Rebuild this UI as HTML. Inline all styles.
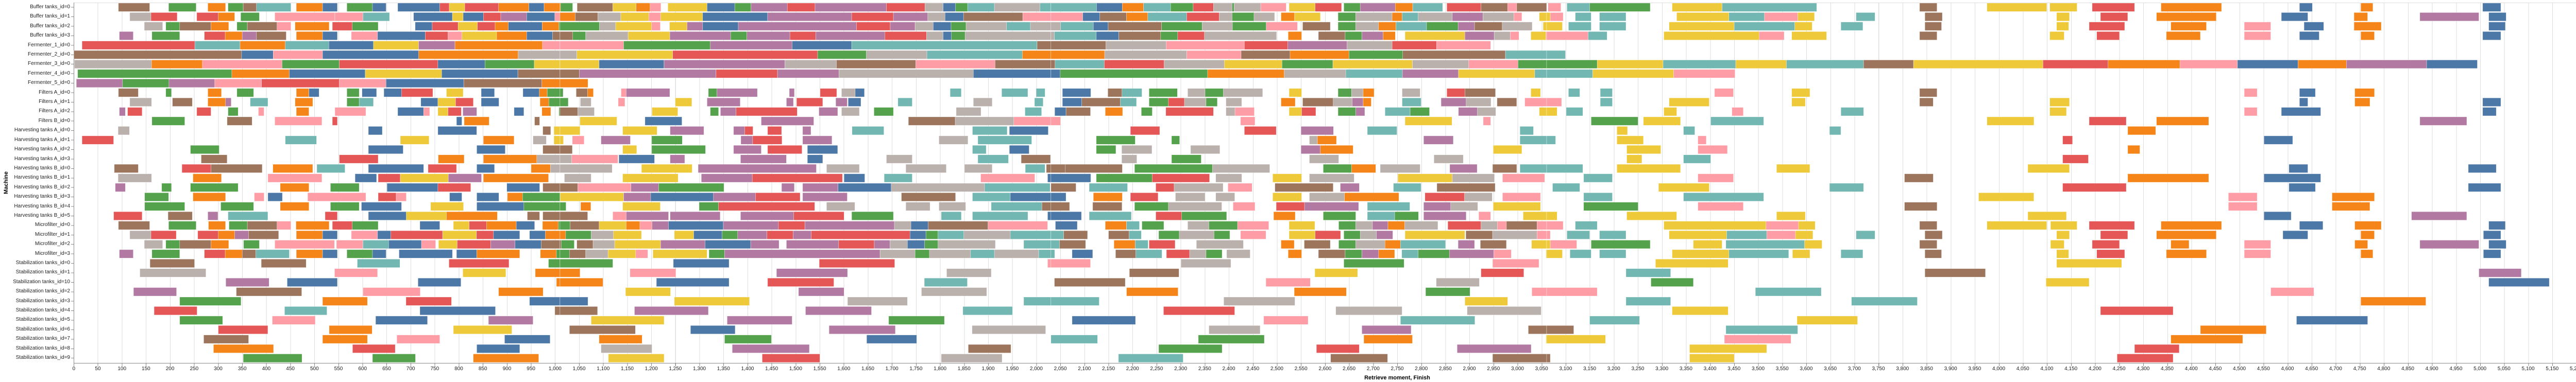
<!DOCTYPE html>
<html><head><meta charset="utf-8">
<meta name="viewport" content="width=5386, initial-scale=1">
<style>
html,body{margin:0;padding:0;background:#fff;overflow:hidden;width:5386px;height:742px;}
#wrap{width:5386px;height:742px;position:relative;overflow:hidden;font-family:"Liberation Sans",Arial,sans-serif;color:#000;}
.grid{position:absolute;left:143.3px;top:5px;width:5138.7px;height:700px;background:repeating-linear-gradient(to right,#dddddd 0 1px,transparent 1px 46.71px);border-top:1px solid #ddd;border-right:1px solid #ddd;box-sizing:border-box;}
.yax{position:absolute;left:143px;top:5px;width:1px;height:700px;background:#888;}
.xax{position:absolute;left:143px;top:705px;width:5140px;height:1px;background:#888;}
.xt{position:absolute;left:143.3px;top:706px;width:5140px;height:5px;background:repeating-linear-gradient(to right,#888 0 1px,transparent 1px 46.71px);}
.yt{position:absolute;left:138px;top:5px;width:5px;height:700px;background:repeating-linear-gradient(to bottom,transparent 0 8.7px,#888 8.7px 9.7px,transparent 9.7px 18.42px);}
.yl{position:absolute;left:0;top:5px;width:136px;font-size:10px;text-align:right;color:#222;}
.yl div{height:18.42px;line-height:18.42px;white-space:nowrap;}
.xl{position:absolute;left:119.95px;top:711px;width:5240px;font-size:10px;color:#222;white-space:nowrap;overflow:hidden;}
.xl span{display:inline-block;width:46.71px;text-align:center;}
.xtitle{position:absolute;left:2612px;width:200px;top:728px;text-align:center;font-size:11px;font-weight:bold;}
.leg{position:absolute;left:5304px;top:8px;width:80px;font-size:10px;}
.leg h4{margin:0 0 2px 0;font-size:11px;font-weight:bold;height:16px;line-height:16px;}
.leg div{height:13px;line-height:13px;white-space:nowrap;}
.leg i{display:inline-block;width:10px;height:10px;vertical-align:-1px;margin-right:5px;}
svg{position:absolute;left:0;top:0;}
</style></head><body><div id="wrap">
<div class="grid"></div>
<div class="yax"></div><div class="xax"></div><div class="xt"></div><div class="yt"></div>
<div class="yl">
<div>Buffer tanks_id=0</div><div>Buffer tanks_id=1</div><div>Buffer tanks_id=2</div><div>Buffer tanks_id=3</div>
<div>Fermenter_1_id=0</div><div>Fermenter_2_id=0</div><div>Fermenter_3_id=0</div><div>Fermenter_4_id=0</div><div>Fermenter_5_id=0</div>
<div>Filters A_id=0</div><div>Filters A_id=1</div><div>Filters A_id=2</div><div>Filters B_id=0</div>
<div>Harvesting tanks A_id=0</div><div>Harvesting tanks A_id=1</div><div>Harvesting tanks A_id=2</div><div>Harvesting tanks A_id=3</div>
<div>Harvesting tanks B_id=0</div><div>Harvesting tanks B_id=1</div><div>Harvesting tanks B_id=2</div><div>Harvesting tanks B_id=3</div><div>Harvesting tanks B_id=4</div><div>Harvesting tanks B_id=5</div>
<div>Microfilter_id=0</div><div>Microfilter_id=1</div><div>Microfilter_id=2</div><div>Microfilter_id=3</div>
<div>Stabilization tanks_id=0</div><div>Stabilization tanks_id=1</div><div>Stabilization tanks_id=10</div><div>Stabilization tanks_id=2</div><div>Stabilization tanks_id=3</div><div>Stabilization tanks_id=4</div><div>Stabilization tanks_id=5</div><div>Stabilization tanks_id=6</div><div>Stabilization tanks_id=7</div><div>Stabilization tanks_id=8</div><div>Stabilization tanks_id=9</div>
</div>
<svg width="30" height="742" xmlns="http://www.w3.org/2000/svg"><text transform="translate(15,355) rotate(-90)" text-anchor="middle" font-family="Liberation Sans, Arial, sans-serif" font-size="11" font-weight="bold">Machine</text></svg>
<div class="xl"><span>0</span><span>50</span><span>100</span><span>150</span><span>200</span><span>250</span><span>300</span><span>350</span><span>400</span><span>450</span><span>500</span><span>550</span><span>600</span><span>650</span><span>700</span><span>750</span><span>800</span><span>850</span><span>900</span><span>950</span><span>1,000</span><span>1,050</span><span>1,100</span><span>1,150</span><span>1,200</span><span>1,250</span><span>1,300</span><span>1,350</span><span>1,400</span><span>1,450</span><span>1,500</span><span>1,550</span><span>1,600</span><span>1,650</span><span>1,700</span><span>1,750</span><span>1,800</span><span>1,850</span><span>1,900</span><span>1,950</span><span>2,000</span><span>2,050</span><span>2,100</span><span>2,150</span><span>2,200</span><span>2,250</span><span>2,300</span><span>2,350</span><span>2,400</span><span>2,450</span><span>2,500</span><span>2,550</span><span>2,600</span><span>2,650</span><span>2,700</span><span>2,750</span><span>2,800</span><span>2,850</span><span>2,900</span><span>2,950</span><span>3,000</span><span>3,050</span><span>3,100</span><span>3,150</span><span>3,200</span><span>3,250</span><span>3,300</span><span>3,350</span><span>3,400</span><span>3,450</span><span>3,500</span><span>3,550</span><span>3,600</span><span>3,650</span><span>3,700</span><span>3,750</span><span>3,800</span><span>3,850</span><span>3,900</span><span>3,950</span><span>4,000</span><span>4,050</span><span>4,100</span><span>4,150</span><span>4,200</span><span>4,250</span><span>4,300</span><span>4,350</span><span>4,400</span><span>4,450</span><span>4,500</span><span>4,550</span><span>4,600</span><span>4,650</span><span>4,700</span><span>4,750</span><span>4,800</span><span>4,850</span><span>4,900</span><span>4,950</span><span>5,000</span><span>5,050</span><span>5,100</span><span>5,150</span><span>5,200</span><span>5,250</span><span>5,300</span><span>5,350</span><span>5,400</span><span>5,450</span><span>5,500</span></div>
<div class="xtitle">Retrieve moment, Finish</div>
<div class="leg"><h4>Product</h4>
<div><i style="background:#4c78a8"></i>0</div><div><i style="background:#f58518"></i>1</div><div><i style="background:#e45756"></i>2</div><div><i style="background:#72b7b2"></i>3</div><div><i style="background:#54a24b"></i>4</div><div><i style="background:#eeca3b"></i>5</div><div><i style="background:#b279a2"></i>6</div><div><i style="background:#ff9da6"></i>7</div><div><i style="background:#9d755d"></i>8</div><div><i style="background:#bab0ac"></i>9</div>
<div><i style="background:#4c78a8"></i>10</div><div><i style="background:#f58518"></i>11</div><div><i style="background:#e45756"></i>12</div><div><i style="background:#72b7b2"></i>13</div><div><i style="background:#54a24b"></i>14</div><div><i style="background:#eeca3b"></i>15</div><div><i style="background:#b279a2"></i>16</div><div><i style="background:#ff9da6"></i>17</div><div><i style="background:#9d755d"></i>18</div><div><i style="background:#bab0ac"></i>19</div>
<div><i style="background:#4c78a8"></i>20</div><div><i style="background:#f58518"></i>21</div><div><i style="background:#e45756"></i>22</div><div><i style="background:#72b7b2"></i>23</div><div><i style="background:#54a24b"></i>24</div><div><i style="background:#eeca3b"></i>25</div><div><i style="background:#b279a2"></i>26</div><div><i style="background:#ff9da6"></i>27</div><div><i style="background:#9d755d"></i>28</div><div><i style="background:#bab0ac"></i>…91 entries</div>
</div>
<svg id="s" width="5386" height="742" xmlns="http://www.w3.org/2000/svg"></svg>
</div>
<script>
var C={b:'#4c78a8',o:'#f58518',r:'#e45756',t:'#72b7b2',g:'#54a24b',y:'#eeca3b',p:'#b279a2',k:'#ff9da6',n:'#9d755d',s:'#bab0ac'};
var A=[
"n148-247 g307-394 o431-487 g495-543 n543-585 t585-694 o711-794 b794-841 g871-952 b952-995 b1032-1165 r1165-1195 y1195-1244 r1244-1351 o1351-1447 b1447-1495 o1495-1548 g1548-1568",
"s184-251 r251-334 r396-464 o464-516 g535-594 k643-833 k833-922 t922-1006 b1082-1205 y1205-1239 b1239-1303 r1303-1358 p1358-1440 b1440-1529 k1529-1568",
"s230-288 g298-342 n342-441 o441-497 g523-556 n556-650 k650-694 o707-815 r825-888 g888-970 b1087-1141 r1141-1223 y1223-1284 r1284-1340 o1340-1382 b1382-1489 o1489-1542 g1542-1568",
"p151-195 g254-342 r420-486 o486-540 p540-585 n585-679 o711-794 b794-841 k885-968 b968-1119 r1119-1191 k1191-1235 y1235-1345 o1345-1440 b1440-1522 n1522-1568",
"r33-390 t390-533 o533-676 t676-814 b814-955 y955-1098 p1098-1213 o1213-1490 k1490-1568",
"n5-538 b538-638 k638-794 b794-1098 o1098-1413 s1413-1568",
"s9-253 o253-414 k414-666 g666-847 r847-1159 b1159-1308 g1308-1464 y1464-1568",
"g19-507 o507-689 b689-929 y929-1171 b1171-1412 n1412-1568",
"p15-161 g161-308 p308-453 k453-601 r601-847 k847-995 b995-1241 n1241-1488 o1488-1568",
"n148-211 g298-316 o431-474 g523-576 o711-751 b751-783 g871-910 b919-965 b988-1044 r1044-1143 y1186-1239 b1296-1338 b1428-1480 o1480-1505 g1505-1555",
"s184-253 n319-382 o431-487 p487-505 t565-621 o707-763 g871-910 t910-955 b1105-1159 y1159-1215 r1215-1271 b1296-1352 o1482-1510 g1510-1568",
"p151-170 r177-223 r396-441 g495-527 k591-609 o711-751 k833-931 b1032-1114 k1114-1133 y1159-1191 r1191-1233 p1238-1282 b1400-1431 o1488-1516 g1542-1568",
"g254-358 n492-571 k643-792 r825-841 b1218-1235 o1242-1321 n1465-1481",
"s147-183 b939-983 b1159-1282 n1491-1516 y1526-1568",
"r33-133 t676-775 y1040-1131 o1303-1400 s1460-1502 y1526-1557",
"g376-467 b939-1049 b1282-1372 n1491-1568",
"n410-492 r847-970 o1160-1242 o1303-1472 s1472-1568",
"n135-211 r349-441 n441-603 o637-763 t776-865 b939-1114 r1128-1218 b1282-1338 o1454-1515 s1515-1568",
"s147-253 o384-474 k621-792 b897-965 r970-1040 y1040-1192 p1192-1297 o1303-1509 s1560-1568",
"p138-170 g285-316 g376-527 o660-751 g819-910 b998-1159 r1159-1263 b1377-1481 n1491-1568",
"g231-307 o384-487 k578-609 b621-667 k747-931 r970-1027 k1027-1059 b1196-1235 b1282-1352 o1379-1427 g1427-1547 y1547-1568",
"g231-358 g472-576 o660-751 g819-910 b917-1044 y1136-1240 b1282-1431 g1431-1563",
"r133-223 n305-382 p431-463 t495-621 r802-841 b939-1059 y1059-1186 o1186-1347 n1442-1481 n1491-1568",
"n148-247 g307-394 o433-487 g498-556 n556-650 k650-694 o710-815 r825-888 g888-970 b1102-1165 y1208-1258 r1258-1313 o1313-1407 b1407-1465 o1490-1540 g1540-1568",
"s184-251 r251-331 r399-464 o464-516 p516-560 n560-655 o711-794 b794-841 k885-968 b968-1010 r1010-1174 y1174-1281 r1281-1335 b1335-1418 b1449-1499 o1499-1563",
"s230-288 g298-342 n342-441 o441-497 g544-594 k643-832 k838-922 t922-1003 b1003-1107 k1107-1152 y1161-1220 r1220-1326 p1326-1403 b1403-1486 n1486-1549 g1549-1568",
"p151-195 g254-342 r420-486 o486-540 n540-583 t583-689 o711-794 b794-841 g871-952 b952-995 b1036-1205 b1218-1282 o1282-1418 o1483-1534 g1534-1568",
"n248-389 n600-742 t904-1039 r1194-1384 g1509-1568",
"s216-425 k832-968 y1238-1374 o1467-1568",
"p488-625 b682-841 b1096-1232 o1534-1568",
"p196-332 n521-728 k922-1103 o1351-1492",
"g342-536 o794-936 r1058-1202 b1449-1568",
"r261-397 t674-808 b1102-1341 n1529-1568",
"g342-478 k635-771 b962-1126 p1319-1460",
"r464-621 o815-951 y1208-1393",
"n418-560 o794-936 k1029-1165 b1370-1514",
"o449-639 r889-1024 b1282-1418",
"g543-729 g952-1088 o1271-1478"];
var B=[
"o0-28 g28-66 n80-192 y192-265 o265-309 k309-343 y365-488 b488-575 g575-626 p626-740 r740-827 p827-1051 r1051-1172 s1172-1229 b1229-1268 g1268-1306 t1306-1390 s1390-1533 t1533-1568",
"b0-10 o10-74 n74-145 s145-217 y217-305 k305-342 y342-474 b474-678 p678-942 r942-1073 p1073-1181 s1181-1235 b1235-1293 n1293-1479 k1479-1568",
"o0-22 g22-150 s150-201 y201-314 k314-341 y370-425 p425-474 b474-586 p586-957 r957-1063 p1063-1141 s1141-1198 b1198-1254 g1254-1301 s1301-1428 t1428-1503 s1503-1568",
"b0-3 n3-66 g66-107 s107-240 y240-371 p371-562 g562-613 p613-748 r748-829 p829-1046 r1046-1177 s1177-1229 b1229-1255 g1255-1298 s1298-1568",
"k0-226 g226-498 p498-755 b755-942 t942-1524 n1524-1568",
"s0-79 y79-380 r380-835 g835-988 s988-1178 t1178-1478 o1478-1568",
"y0-149 b149-353 p353-732 s732-894 n894-1143 k1143-1392 n1392-1568",
"n0-87 p87-516 r516-709 p709-902 s902-1324 b1324-1568",
"o0-114",
"g0-36 n77-113 o113-131 k218-234 p234-371 g492-519 p519-646 p746-762 r843-895 s910-953 b953-982 t1251-1286 t1413-1495 t1521-1549",
"g0-52 s90-124 k209-230 y388-440 p488-592 p737-759 r769-851 p892-928 b931-971 t1087-1132 s1324-1383 t1516-1543",
"n24-82 s82-134 y315-396 g498-524 p530-579 r579-771 p839-898 s910-966 g1012-1073 s1270-1348 t1486-1538",
"y89-205 b293-409 p658-823 n1120-1267 s1267-1451 k1451-1568",
"y6-89 y223-331 p372-478 p571-606 r606-632 r678-722 p788-814 t943-1043 t1321-1430 b1437-1559",
"y6-37 k65-102 p155-247 g314-410 p594-631 r631-723 p788-880 s1216-1307 t1338-1507",
"n0-65 y223-267 g314-483 p571-658 r678-786 b803-898 t1321-1364 b1437-1499",
"s0-63 k63-208 b211-323 p372-418 p593-737 b803-851 s1051-1132 t1338-1434 n1474-1566",
"s0-190 y282-441 p460-831 s863-966 s1112-1239 s1296-1383 t1487-1549 n1553-1568",
"s40-124 y223-397 p470-630 r630-913 b918-983 t1044-1132 k1347-1517 b1557-1568",
"n0-82 k82-249 p249-336 g336-541 p722-762 p788-899 b899-1066 s1066-1359 t1359-1565",
"g0-27 y27-226 p226-311 b311-508 p508-640 r640-780 p788-928 n1098-1268 t1321-1440 b1440-1568",
"g0-45 o91-123 y223-341 g463-524 r524-826 s863-952 s1112-1188 s1216-1300 t1380-1539 n1539-1568",
"n0-113 k192-234 p234-367 p372-529 p593-760 r760-918 g942-1073 t1223-1286 t1321-1495 b1557-1568",
"o0-20 g20-58 n58-149 y149-234 o234-277 k277-315 p315-367 b367-539 p539-712 r712-795 p795-1076 s1076-1128 b1128-1182 n1182-1370 k1370-1557",
"o0-44 g44-124 s124-194 y194-282 y385-446 b446-535 g535-584 p584-676 r676-758 p758-815 r815-1125 b1125-1175 g1175-1213 t1213-1294 s1294-1440 t1440-1568",
"n0-30 g30-71 n79-130 s130-198 y198-342 p342-482 b482-625 p625-714 p737-901 r901-1013 p1013-1062 s1062-1117 b1117-1171 g1171-1213 s1213-1393 t1482-1568",
"o0-15 g15-56 n56-107 s107-177 y177-264 k264-302 y318-488 g494-543 p543-1031 s1031-1141 g1141-1186 s1186-1315 t1315-1390 s1390-1529 t1529-1568",
"g0-192 b382-557 r840-1077 k1557-1568",
"o0-89 k246-390 p706-929 s1240-1380",
"o15-161 b329-557 r678-886 t1170-1305",
"y232-373 p775-918 s1161-1366",
"b0-114 y385-621 s929-1117 t1482-1568",
"n10-144 p260-492 p797-1004 t1291-1447",
"y124-353 p551-755 g1058-1233",
"n56-263 b436-576 p871-1079 s1320-1551",
"o149-284 g543-690 b989-1146",
"s155-315 p567-809 n1308-1442",
"y178-353 r661-842 s1223-1414"];
var Cc=[
"t0-157 b157-237 o237-303 t303-387 g387-457 r457-520 s520-578 g578-584 s584-667 k667-746 y755-836 r836-918 g925-976 p976-1085 o1085-1139 t1139-1232 r1245-1351 n1351-1434 k1434-1462 n1462-1559 k1559-1568",
"k0-114 b114-167 n167-250 o250-316 t316-437 r437-538 s538-578 g578-646 s646-710 o730-772 y772-852 g907-962 s962-1075 o1075-1106 t1106-1156 s1156-1262 p1262-1357 s1357-1453 k1453-1478 y1532-1568",
"s0-45 t45-147 b147-193 n193-359 g359-485 s485-579 g579-684 k684-781 n797-883 g907-962 s962-1033 o1033-1087 t1087-1182 g1182-1280 p1280-1331 n1331-1417 s1417-1510 y1544-1568",
"s0-26 t26-156 b156-226 n226-356 g356-409 r409-492 s492-716 o752-794 n846-929 g929-981 p981-1047 o1047-1085 y1115-1301 p1301-1392 s1392-1442 k1442-1469 y1506-1553 k1553-1568",
"n0-186 s186-373 k373-616 r616-751 p751-935 s935-1075 r1075-1213 k1213-1381",
"o0-182 s182-437 k437-606 n606-758 o758-941 g941-1108 n1108-1427 t1427-1568",
"n0-28 t28-181 r181-367 s367-554 y554-733 g733-891 y891-1138 s1138-1313 k1313-1466 g1466-1568",
"b0-44 g44-502 o502-740 s740-931 t931-1107 p1107-1281 y1281-1518 t1518-1568",
"",
"b51-139 n192-236 t236-298 g320-408 s440-494 g494-551 s551-673 y755-794 g907-949 s949-985 o985-1019 s1106-1162 r1245-1301 n1301-1396 y1506-1536",
"b51-111 n111-231 t231-281 g320-380 r380-430 s430-497 g497-532 s559-608 o730-774 n797-892 s892-951 p951-985 o985-1010 t1106-1165 p1227-1305 s1305-1382 n1401-1462 k1487-1568",
"b27-62 n62-138 o184-238 g296-330 r372-520 s559-587 k587-647 y755-794 r794-838 g907-962 p962-990 t1053-1131 g1131-1191 p1281-1340 s1340-1397 y1532-1568",
"k0-45 k604-649 y1115-1261 k1358-1381",
"b0-7 r262-353 r616-715 p792-893 t998-1090 t1472-1514",
"g156-277 g390-415 s818-843 o843-902 p1173-1265 t1472-1568",
"g156-217 s235-329 s449-540 p792-852 o852-954 y1389-1478",
"n0-13 s235-282 g390-482 s818-909 s1205-1296",
"n2-60 n60-237 g275-517 s517-695 g861-949 o949-1024 s1038-1162 p1254-1339 n1387-1462 t1472-1568",
"b6-139 g156-330 r330-508 s527-608 y704-794 s818-957 y1093-1262 s1262-1393 k1418-1549",
"t0-13 n13-93 t134-253 r341-398 s398-550 k565-640 n711-892 p914-973 t1079-1165 n1214-1395",
"b0-62 o147-237 r262-348 s402-494 s527-586 y704-794 s818-927 o927-1096 r1177-1300 s1300-1386 k1418-1536",
"n0-73 n145-236 g275-380 s380-546 k581-649 r715-803 p803-971 t998-1130 p1173-1257 s1257-1341 y1389-1536",
"b6-110 t134-265 r341-421 g421-561 o707-774 g861-962 t998-1083 g1083-1157 p1173-1305 k1344-1381 y1482-1568",
"k0-5 b29-97 o184-250 t250-290 g298-366 s440-506 g506-595 k595-692 y755-835 g909-962 s962-1014 p1014-1062 o1062-1114 s1114-1217 r1248-1351 s1351-1402 k1402-1430 n1430-1525 k1525-1568",
"t0-55 n55-129 n194-258 t258-296 g350-414 s414-522 g522-571 k604-683 y755-836 r836-915 g925-976 s976-1026 p1026-1077 y1115-1301 n1304-1387 s1387-1525 k1525-1565",
"t0-42 n42-123 o211-277 t277-317 r320-401 s467-613 o730-771 n802-883 g909-962 s962-1053 o1053-1101 t1101-1241 p1280-1331 n1349-1430 y1508-1568",
"t0-27 b81-145 n216-279 t279-360 r374-446 s446-497 g497-547 s561-634 o752-794 n846-929 g929-981 p981-1033 o1033-1083 t1105-1156 g1156-1253 p1253-1391 k1391-1445 y1553-1568",
"k5-138 s419-574 g925-1112 k1387-1531",
"n259-413 y835-968 r1351-1484",
"n26-246 k683-821 s1212-1346",
"o250-410 o771-933 g1179-1317 k1509-1568",
"t0-165 s552-773 y1301-1434",
"r365-586 s900-1106 s1308-1538",
"b81-278 k676-814 t1101-1332",
"s506-665 p981-1134 n1498-1568",
"t15-160 g473-678 o987-1138 y1553-1568",
"g350-547 r840-973 p1277-1507",
"t225-426 n884-1061 n1387-1563"];
var D=[
"k2-19 t27-57 g57-137 y166-232 t232-357 n493-516 y582-661 y665-701 r721-777 o812-892 b995-1012 o1076-1092 b1237-1261",
"y0-5 k5-22 t38-59 t70-105 y172-241 t241-288 k288-332 y332-354 t409-434 n500-523 y674-691 r732-768 o806-885 b971-1006 o1067-1085 p1154-1232 b1245-1268",
"y0-21 t29-59 t70-105 y162-248 t248-328 y328-351 t389-418 n500-522 y674-690 r717-764 o825-872 k922-957 b1001-1027 o1067-1103 b1245-1267",
"k0-55 t55-80 y155-281 k281-314 y324-370 n493-516 y665-684 r727-757 o819-864 k922-957 b995-1021 o1076-1094 b1237-1261",
"",
"t0-25",
"g0-67 y67-154 t154-250 y250-317 t317-419 n419-485 y485-656 r656-742 o742-837 k837-913 b913-993 o993-1057 p1057-1163 b1163-1230",
"t0-61 y61-168 k168-249",
"",
"t29-44 t71-87 k222-247 y324-348 n493-516 k922-939 b995-1016 o1068-1094",
"k0-20 t71-87 y162-215 y324-342 n493-511 y665-691 b995-1006 o1068-1088 b1237-1261",
"y0-14 t26-48 y155-172 k245-260 t389-419 y665-687 k922-939 b971-1023 b1237-1255",
"g59-121 y128-177 t217-287 y582-644 r717-766 o806-875 p1154-1216",
"y93-107 t181-196 t374-389 o768-805",
"t0-12 y93-128 k200-211 r682-695 b948-986",
"y106-151 k200-239 o768-784",
"y106-126 t181-217 r682-716",
"t0-48 y93-177 y304-348 y636-691 b981-1006 b1218-1255",
"t49-87 k200-247 n473-511 o768-875 b948-1023",
"t8-44 y148-215 t374-419 r682-766 b981-1016 b1218-1261",
"t49-87 t181-287 y571-644 k901-939 o1038-1094",
"g49-121 k200-260 n473-516 k901-939 o1038-1088",
"y0-14 y106-172 y304-342 y636-687 b948-984 p1143-1216",
"k0-22 t38-67 y155-290 k290-333 y333-355 n493-516 y582-661 y666-701 r717-777 o812-892 b995-1026 o1068-1103 b1245-1267",
"k0-5 t27-57 t70-105 y162-238 t238-291 k291-329 y329-352 t409-434 n500-523 y674-691 r732-768 o806-885 b973-1006 o1076-1094 b1238-1261",
"y0-5 k5-40 g59-137 y194-232 t237-341 y341-364 n493-516 y666-684 r721-757 o825-849 k922-957 o1068-1085 p1154-1232 b1245-1268",
"y0-21 t31-59 t70-105 y166-241 t241-320 y325-348 t389-418 n500-522 y674-690 r727-764 o819-872 k922-957 o1076-1092 b1238-1261",
"y144-240 y674-760",
"t105-164 n500-580 p1232-1288",
"g138-194 y660-717 b1245-1325",
"k0-67 t276-363 k957-1014",
"t105-164 t403-490 o1076-1162",
"y166-240 r732-828",
"t57-123 y331-411 b991-1085",
"n0-36 t237-332 o864-951",
"y0-78 k235-323 o825-920",
"y189-291 r777-836",
"n0-5 y189-248 r754-828"];
var segs=[{d:A,a:7,s:1.523,o:0,lo:0,hi:1010},{d:B,a:11,s:1.511,o:1000,lo:1010,hi:2030},{d:Cc,a:45,s:1.495,o:2050,lo:2030,hi:3060},{d:D,a:598,s:0.636,o:4000,lo:3060,hi:5500}];
var svg=document.getElementById('s'),h='';
function X(u){return 143.3+u*0.93422;}
segs.forEach(function(g){
 g.d.forEach(function(row,i){
  row.split(' ').forEach(function(tk){
   if(!tk)return;
   var c=C[tk[0]],p=tk.slice(1).split('-');
   var u0=g.o+(+p[0]-g.a)/g.s,u1=g.o+(+p[1]-g.a)/g.s;
   if(u0<g.lo)u0=g.lo; if(u1>g.hi)u1=g.hi; if(u1<=u0)return;
   var x0=X(u0),x1=X(u1),y=5+i*18.42+1;
   h+='<rect x="'+x0.toFixed(1)+'" y="'+y.toFixed(1)+'" width="'+(x1-x0).toFixed(1)+'" height="16.4" fill="'+c+'" stroke="#fff" stroke-opacity="0.6" stroke-width="0.6"/>';
  });
 });
});
svg.innerHTML=h;
</script>
</body></html>
